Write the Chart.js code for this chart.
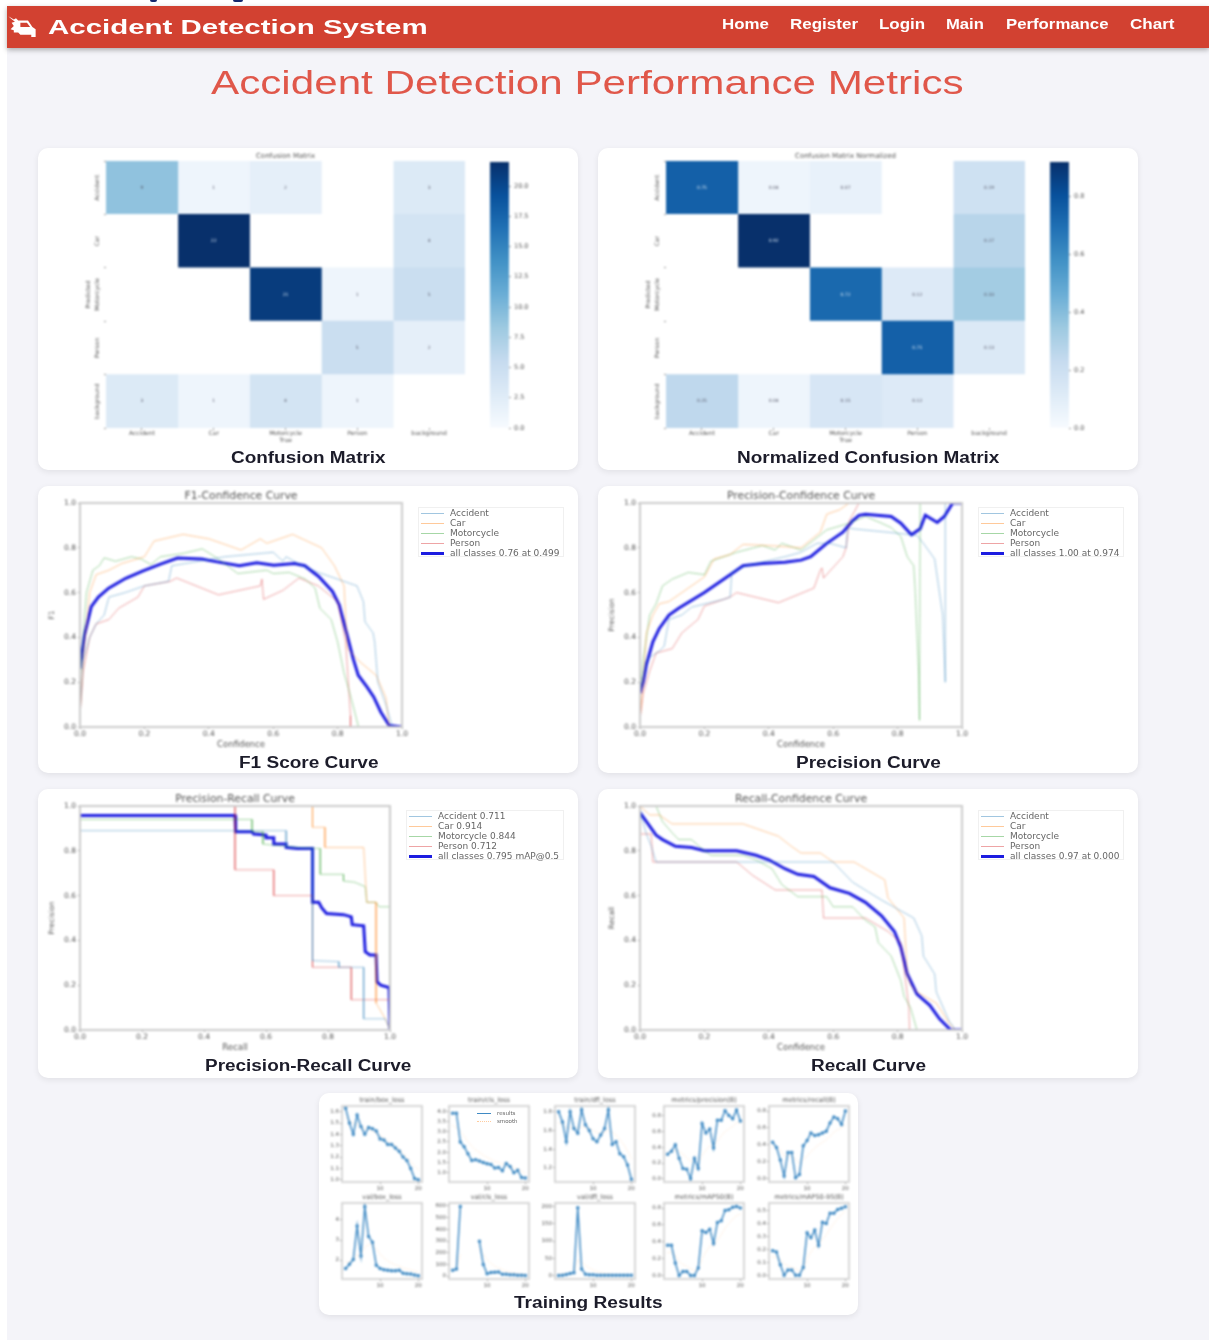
<!DOCTYPE html>
<html>
<head>
<meta charset="utf-8">
<title>Accident Detection Performance Metrics</title>
<script src="https://cdn.jsdelivr.net/npm/chart.js@4"></script>
<style>
  html, body { margin: 0; padding: 0; background: #fff; }
  #page { position: relative; width: 1209px; height: 1341px; overflow: hidden; font-family: "Liberation Sans", Arial, sans-serif; }
  #bg { position: absolute; left: 7px; top: 6px; width: 1202px; height: 1334px; background: #f4f4f9; }
  #nav { position: absolute; left: 7px; top: 6px; width: 1202px; height: 42px; background: #d24131; box-shadow: 0 2px 5px rgba(0,0,0,.3); }
  .frag { position: absolute; top: 0; height: 2px; background: #14286e; border-radius: 0 0 5px 5px; }
  .card { position: absolute; background: #fff; border-radius: 10px; box-shadow: 0 2px 6px rgba(0,0,0,.08); }
  .txt { position: absolute; white-space: nowrap; transform-origin: 0 50%; filter: blur(.5px); line-height: 1; }
  canvas { position: absolute; filter: blur(.8px); }
  .legend { position: absolute; font: 9px "DejaVu Sans", sans-serif; color: #666; background: #fff; border: 1px solid #f0f0f0; filter: blur(.7px); box-sizing: border-box; padding: 0 0 0 2px; }
  .legend div { height: 10px; line-height: 10px; white-space: nowrap; }
  .legend i { display: inline-block; width: 23px; margin-right: 6px; vertical-align: middle; }
</style>
</head>
<body>
<div id="page">
  <div id="bg"></div>
  <div class="frag" style="left:150px;width:7px"></div>
  <div class="frag" style="left:233px;width:10px"></div>
  <div id="nav"></div>
  <svg style="position:absolute;left:7px;top:14px;filter:blur(.5px)" width="30" height="24" viewBox="0 0 27 22">
    <path fill="#fff" d="M1 2l5 3 2-1 2 2h9l4 6 3 2v7h-4v-2H12l-2-2H6v-2l-3-1 3-3-2-3 3-1-4-3z"/>
    <path fill="#d24131" d="M12 8h6l3 4H12z"/>
  </svg>
</div>
<script>
// Confusion matrix values
const classNames = ['Accident', 'Car', 'Motorcycle', 'Person', 'background'];
const cmRows = [
  [9, 1, 2, 0, 3],
  [0, 22, 0, 0, 4],
  [0, 0, 21, 1, 5],
  [0, 0, 0, 5, 2],
  [3, 1, 4, 1, 0]
];
const cmNormRows = [
  [0.75, 0.04, 0.07, 0, 0.19],
  [0, 0.92, 0, 0, 0.27],
  [0, 0, 0.72, 0.12, 0.33],
  [0, 0, 0, 0.75, 0.13],
  [0.25, 0.04, 0.15, 0.12, 0]
];

// F1-confidence curve
const f1Accident = [[0,0.05],[0.01,0.3],[0.03,0.4],[0.05,0.46],[0.075,0.5],[0.09,0.58],[0.14,0.6],[0.2,0.63],[0.275,0.65],[0.285,0.72],[0.37,0.74],[0.45,0.76],[0.6,0.78],[0.63,0.74],[0.64,0.76],[0.69,0.72],[0.74,0.69],[0.8,0.66],[0.86,0.63],[0.88,0.56],[0.885,0.47],[0.91,0.42],[0.915,0.38],[0.925,0.2],[0.95,0.1],[0.97,0],[1,0]];
const f1Car = [[0,0.05],[0.01,0.3],[0.03,0.6],[0.05,0.68],[0.09,0.7],[0.13,0.73],[0.2,0.76],[0.23,0.83],[0.32,0.86],[0.4,0.84],[0.5,0.79],[0.56,0.84],[0.58,0.82],[0.66,0.86],[0.75,0.8],[0.79,0.72],[0.82,0.63],[0.83,0.35],[0.87,0.29],[0.92,0.23],[0.95,0.13],[0.96,0],[1,0]];
const f1Motorcycle = [[0,0.2],[0.01,0.4],[0.02,0.6],[0.04,0.7],[0.06,0.72],[0.075,0.755],[0.11,0.74],[0.16,0.76],[0.19,0.75],[0.22,0.725],[0.25,0.76],[0.32,0.775],[0.38,0.795],[0.43,0.75],[0.49,0.685],[0.58,0.7],[0.6,0.685],[0.65,0.69],[0.7,0.66],[0.73,0.62],[0.745,0.53],[0.78,0.48],[0.8,0.38],[0.82,0.24],[0.84,0.14],[0.865,0],[1,0]];
const f1Person = [[0,0.05],[0.01,0.25],[0.03,0.4],[0.05,0.46],[0.09,0.48],[0.12,0.53],[0.18,0.58],[0.2,0.63],[0.28,0.65],[0.3,0.665],[0.43,0.59],[0.56,0.63],[0.565,0.66],[0.57,0.57],[0.63,0.61],[0.68,0.665],[0.74,0.63],[0.8,0.56],[0.825,0.38],[0.84,0.05],[0.84,0],[1,0]];
const f1All = [[0,0.26],[0.014,0.41],[0.035,0.537],[0.057,0.58],[0.089,0.62],[0.142,0.664],[0.196,0.697],[0.25,0.727],[0.303,0.754],[0.378,0.75],[0.43,0.736],[0.495,0.72],[0.549,0.733],[0.602,0.722],[0.666,0.73],[0.698,0.72],[0.741,0.672],[0.784,0.605],[0.805,0.545],[0.827,0.425],[0.848,0.306],[0.864,0.231],[0.891,0.179],[0.912,0.134],[0.934,0.067],[0.96,0.007],[1,0]];
const f1Legend = ['Accident', 'Car', 'Motorcycle', 'Person', 'all classes 0.76 at 0.499'];

// Precision-confidence curve
const pAccident = [[0,0.15],[0.02,0.3],[0.06,0.34],[0.075,0.36],[0.09,0.48],[0.13,0.5],[0.16,0.535],[0.26,0.57],[0.28,0.58],[0.285,0.69],[0.33,0.72],[0.45,0.76],[0.5,0.78],[0.55,0.82],[0.59,0.82],[0.64,0.8],[0.645,0.89],[0.66,0.885],[0.8,0.865],[0.86,0.855],[0.88,0.82],[0.915,0.75],[0.94,0.5],[0.948,0.2],[0.948,1],[1,1]];
const pCar = [[0,0.03],[0.01,0.2],[0.02,0.42],[0.04,0.5],[0.06,0.55],[0.09,0.56],[0.13,0.6],[0.2,0.67],[0.23,0.75],[0.28,0.77],[0.32,0.815],[0.4,0.81],[0.5,0.8],[0.56,0.87],[0.58,0.95],[0.62,0.97],[0.65,1],[1,1]];
const pMotorcycle = [[0,0.15],[0.01,0.3],[0.03,0.5],[0.05,0.55],[0.07,0.63],[0.1,0.66],[0.15,0.69],[0.2,0.68],[0.22,0.74],[0.3,0.78],[0.38,0.81],[0.42,0.79],[0.44,0.82],[0.5,0.79],[0.58,0.88],[0.65,0.91],[0.7,0.94],[0.75,0.91],[0.78,0.89],[0.81,0.85],[0.83,0.76],[0.85,0.72],[0.855,0.6],[0.865,0.25],[0.868,0.03],[0.87,1],[1,1]];
const pPerson = [[0,0.03],[0.01,0.15],[0.03,0.25],[0.05,0.33],[0.1,0.35],[0.13,0.42],[0.18,0.48],[0.2,0.54],[0.28,0.58],[0.3,0.6],[0.43,0.555],[0.54,0.62],[0.56,0.7],[0.565,0.71],[0.57,0.665],[0.63,0.76],[0.64,0.8],[0.65,0.92],[0.68,1],[1,1]];
const pAll = [[0,0.15],[0.01,0.2],[0.02,0.28],[0.04,0.38],[0.06,0.44],[0.09,0.5],[0.12,0.53],[0.2,0.6],[0.28,0.68],[0.32,0.72],[0.38,0.73],[0.45,0.735],[0.5,0.745],[0.53,0.76],[0.58,0.82],[0.63,0.87],[0.66,0.92],[0.68,0.945],[0.7,0.95],[0.78,0.94],[0.81,0.91],[0.843,0.858],[0.87,0.885],[0.886,0.945],[0.923,0.913],[0.945,0.94],[0.971,1],[1,1]];
const pLegend = ['Accident', 'Car', 'Motorcycle', 'Person', 'all classes 1.00 at 0.974'];

// Precision-recall curve
const prAccident = [[0,0.89],[0.665,0.89],[0.665,0.82],[0.75,0.81],[0.75,0.31],[0.835,0.305],[0.835,0.28],[0.915,0.28],[0.915,0.05],[0.985,0.05],[1,0]];
const prCar = [[0,1],[0.75,1],[0.75,0.905],[0.79,0.905],[0.79,0.815],[0.915,0.815],[0.925,0.57],[0.955,0.57],[0.955,0.12],[0.985,0.05],[1,0]];
const prMotorcycle = [[0,0.94],[0.555,0.94],[0.555,0.885],[0.59,0.885],[0.59,0.83],[0.7,0.815],[0.775,0.81],[0.775,0.695],[0.85,0.695],[0.85,0.665],[0.885,0.66],[0.92,0.64],[0.925,0.57],[0.955,0.57],[0.965,0.55],[1,0.55],[1,0]];
const prPerson = [[0,1],[0.5,1],[0.5,0.715],[0.625,0.715],[0.625,0.6],[0.75,0.6],[0.75,0.28],[0.875,0.28],[0.875,0.135],[1,0.135],[1,0]];
const prAll = [[0,0.958],[0.5,0.958],[0.502,0.885],[0.555,0.885],[0.56,0.875],[0.6,0.87],[0.6,0.858],[0.625,0.858],[0.625,0.83],[0.665,0.83],[0.665,0.815],[0.7,0.81],[0.75,0.81],[0.75,0.57],[0.77,0.57],[0.78,0.545],[0.795,0.52],[0.85,0.515],[0.875,0.505],[0.878,0.47],[0.915,0.465],[0.92,0.35],[0.935,0.335],[0.955,0.335],[0.958,0.215],[0.97,0.2],[0.997,0.19],[1,0]];
const prLimit = [[1,0],[1,1]];
const prLegend = ['Accident 0.711', 'Car 0.914', 'Motorcycle 0.844', 'Person 0.712', 'all classes 0.795 mAP@0.5'];

// Recall-confidence curve
const rAccident = [[0,1],[0.005,0.95],[0.02,0.875],[0.035,0.82],[0.05,0.75],[0.6,0.75],[0.66,0.66],[0.75,0.58],[0.85,0.5],[0.875,0.42],[0.88,0.33],[0.915,0.25],[0.92,0.17],[0.96,0.04],[0.98,0],[1,0]];
const rCar = [[0,1],[0.03,0.96],[0.06,0.96],[0.1,0.92],[0.32,0.92],[0.43,0.865],[0.47,0.82],[0.5,0.79],[0.56,0.79],[0.6,0.75],[0.665,0.75],[0.76,0.67],[0.77,0.59],[0.82,0.5],[0.83,0.25],[0.84,0.2],[0.86,0.17],[0.92,0.12],[0.96,0.03],[0.98,0],[1,0]];
const rMotorcycle = [[0,1],[0.05,1],[0.07,0.93],[0.1,0.88],[0.12,0.85],[0.16,0.85],[0.2,0.8],[0.22,0.78],[0.32,0.78],[0.36,0.76],[0.41,0.72],[0.44,0.65],[0.49,0.595],[0.58,0.595],[0.6,0.55],[0.66,0.55],[0.7,0.49],[0.73,0.46],[0.74,0.39],[0.78,0.33],[0.81,0.22],[0.82,0.15],[0.84,0.1],[0.86,0],[1,0]];
const rPerson = [[0,0.875],[0.035,0.875],[0.04,0.75],[0.3,0.75],[0.35,0.69],[0.42,0.625],[0.565,0.625],[0.57,0.5],[0.7,0.5],[0.77,0.44],[0.81,0.39],[0.835,0.1],[0.837,0],[1,0]];
const rAll = [[0,0.97],[0.02,0.93],[0.05,0.87],[0.07,0.85],[0.11,0.82],[0.16,0.815],[0.2,0.8],[0.3,0.8],[0.36,0.78],[0.4,0.76],[0.45,0.72],[0.49,0.695],[0.54,0.685],[0.59,0.635],[0.65,0.61],[0.7,0.57],[0.75,0.51],[0.79,0.44],[0.81,0.37],[0.83,0.25],[0.86,0.16],[0.9,0.11],[0.93,0.05],[0.965,0],[1,0]];
const rLegend = ['Accident', 'Car', 'Motorcycle', 'Person', 'all classes 0.97 at 0.000'];

// Training results, one value per epoch
const epochs = [1,2,3,4,5,6,7,8,9,10,11,12,13,14,15,16,17,18,19,20];
const trainBox = [1.63,1.5,1.4,1.57,1.47,1.4,1.46,1.45,1.43,1.36,1.35,1.31,1.31,1.28,1.25,1.2,1.17,1.1,1.01,1.0];
const trainBoxSmooth = [1.55,1.52,1.5,1.49,1.47,1.45,1.44,1.43,1.41,1.39,1.37,1.34,1.32,1.3,1.27,1.24,1.2,1.16,1.12,1.09];
const trainCls = [3.9,3.9,2.5,2.27,1.92,1.6,1.63,1.57,1.5,1.44,1.4,1.23,1.26,1.1,1.45,1.3,1.0,1.12,0.77,0.75];
const trainClsSmooth = [3.3,3.2,3.0,2.8,2.5,2.3,2.1,2.0,1.85,1.75,1.65,1.55,1.5,1.42,1.4,1.35,1.25,1.2,1.08,0.98];
const trainDfl = [1.8,1.69,1.48,1.8,1.62,1.57,1.82,1.66,1.6,1.51,1.48,1.55,1.62,1.82,1.45,1.48,1.35,1.32,1.23,1.08];
const trainDflSmooth = [1.68,1.66,1.63,1.63,1.63,1.62,1.64,1.63,1.62,1.6,1.58,1.57,1.58,1.6,1.58,1.55,1.5,1.45,1.38,1.3];
const precisionB = [0.31,0.35,0.43,0.26,0.13,0.12,0,0.26,0.13,0.7,0.58,0.63,0.39,0.74,0.74,0.86,0.8,0.76,0.87,0.73];
const precisionBSmooth = [0.33,0.34,0.36,0.35,0.31,0.27,0.22,0.22,0.2,0.3,0.36,0.42,0.41,0.48,0.54,0.6,0.63,0.66,0.71,0.7];
const recallB = [0.43,0.37,0.22,0.03,0.31,0.31,0.01,0.05,0.39,0.45,0.54,0.51,0.52,0.54,0.56,0.66,0.73,0.71,0.64,0.8];
const recallBSmooth = [0.38,0.38,0.34,0.27,0.28,0.29,0.22,0.18,0.22,0.27,0.32,0.36,0.4,0.43,0.46,0.5,0.55,0.58,0.6,0.64];
const valBox = [1.57,1.79,2.03,3.7,2.2,4.66,3.18,2.89,1.74,1.57,1.51,1.49,1.46,1.46,1.49,1.34,1.31,1.3,1.25,1.21];
const valBoxSmooth = [1.9,1.9,1.95,2.25,2.25,2.65,2.75,2.8,2.55,2.3,2.1,1.95,1.85,1.75,1.7,1.6,1.55,1.5,1.45,1.4];
const valCls = [50,60,595,null,null,null,null,297,100,20,30,33,35,15,15,12,12,8,8,6];
const valClsSmooth = [60,62,190,null,null,null,null,230,190,140,110,85,70,55,42,35,28,22,18,15];
const valDfl = [0,1,3,6,8,196,19,4,2,2,1,1,1,1,1,1,1,1,1,1];
const valDflSmooth = [5,5,5,5,6,45,40,30,22,16,12,9,7,5,4,3,3,2,2,2];
const map50 = [0.36,0.36,0.15,0,0.05,0.05,0,0,0.09,0.53,0.51,0.55,0.38,0.63,0.65,0.77,0.78,0.81,0.82,0.8];
const map50Smooth = [0.27,0.28,0.24,0.17,0.13,0.11,0.08,0.06,0.07,0.2,0.28,0.35,0.35,0.42,0.48,0.56,0.62,0.67,0.71,0.73];
const map5095 = [0.19,0.18,0.08,0,0.04,0.04,0,0,0.06,0.33,0.29,0.35,0.23,0.41,0.4,0.48,0.48,0.51,0.52,0.53];
const map5095Smooth = [0.14,0.14,0.12,0.09,0.07,0.06,0.05,0.03,0.04,0.13,0.18,0.22,0.23,0.28,0.31,0.36,0.4,0.44,0.47,0.5];

const page = document.getElementById('page');
const mpl = '"DejaVu Sans", sans-serif';
const blues = ['#f7fbff','#deebf7','#c6dbef','#9ecae1','#6baed6','#4292c6','#2171b5','#08519c','#08306b'];
const lineColors = ['rgba(31,119,180,.42)', 'rgba(255,127,14,.42)', 'rgba(44,160,44,.42)', 'rgba(214,39,40,.42)', '#1c1ce0'];

Chart.defaults.animation = false;
Chart.defaults.responsive = false;
Chart.defaults.color = '#555';

function hex(c) { return [1, 3, 5].map(i => parseInt(c.substr(i, 2), 16)); }

// Blues colormap lookup, t between 0 and 1
function bluesColor(t) {
  const p = Math.min(t, 1) * (blues.length - 1);
  const i = Math.min(Math.floor(p), blues.length - 2);
  const a = hex(blues[i]), b = hex(blues[i + 1]);
  const c = a.map((v, k) => Math.round(v + (b[k] - v) * (p - i)));
  return 'rgb(' + c.join(',') + ')';
}

function addCanvas(left, top, width, height) {
  const c = document.createElement('canvas');
  c.width = width;
  c.height = height;
  c.style.left = left + 'px';
  c.style.top = top + 'px';
  page.appendChild(c);
  return c;
}

// Text stretched sideways to the width it has in the picture
function addText(text, left, width, midY, size, color, weight) {
  const d = document.createElement('div');
  d.className = 'txt';
  d.textContent = text;
  d.style.left = left + 'px';
  d.style.top = (midY - size / 2) + 'px';
  d.style.fontSize = size + 'px';
  d.style.color = color;
  d.style.fontWeight = weight;
  page.appendChild(d);
  d.style.transform = 'scaleX(' + (width / d.offsetWidth) + ')';
}

function addCard(left, top, right, bottom) {
  const d = document.createElement('div');
  d.className = 'card';
  d.style.cssText = `left:${left}px;top:${top}px;width:${right - left}px;height:${bottom - top}px`;
  page.appendChild(d);
}

function addLegend(labels, left, top, width, height, colors, widths, dashed) {
  const d = document.createElement('div');
  d.className = 'legend';
  d.style.cssText = `left:${left}px;top:${top}px;width:${width}px;height:${height}px`;
  labels.forEach((label, i) => {
    const row = document.createElement('div');
    const mark = document.createElement('i');
    mark.style.borderTop = `${widths[i]}px ${dashed && dashed[i] ? 'dotted' : 'solid'} ${colors[i]}`;
    row.appendChild(mark);
    row.appendChild(document.createTextNode(label));
    d.appendChild(row);
  });
  page.appendChild(d);
  return d;
}

// Gray box round the plot, like the matplotlib spines in the picture
const framePlugin = {
  id: 'frame',
  afterDatasetsDraw(chart, args, opts) {
    if (!opts.color) return;
    const a = chart.chartArea, ctx = chart.ctx;
    ctx.save();
    ctx.strokeStyle = opts.color;
    ctx.lineWidth = opts.width;
    ctx.strokeRect(a.left, a.top, a.right - a.left, a.bottom - a.top);
    ctx.restore();
  }
};

// Numbers inside the heatmap cells
const cellTextPlugin = {
  id: 'cellText',
  afterDatasetsDraw(chart, args, opts) {
    if (!opts.rows) return;
    const ctx = chart.ctx;
    ctx.save();
    ctx.font = '4.5px ' + mpl;
    ctx.textAlign = 'center';
    ctx.textBaseline = 'middle';
    chart.data.datasets.forEach((ds, c) => {
      chart.getDatasetMeta(c).data.forEach((bar, r) => {
        const v = opts.rows[r][c];
        if (!v) return;
        ctx.fillStyle = v / opts.max > 0.55 ? '#dce9f5' : '#556';
        ctx.fillText(opts.fmt(v), (bar.x + bar.base) / 2, bar.y);
      });
    });
    ctx.restore();
  }
};
Chart.register(framePlugin, cellTextPlugin);

function tickGrid() {
  return { display: true, drawOnChartArea: false, drawTicks: true, tickLength: 2, color: '#999' };
}

function heatmap(offsetX, title, rows, max, step, cbDigits, fmt) {
  const canvas = addCanvas(40 + offsetX, 150, 430, 294);
  const datasets = classNames.map((name, c) => ({
    label: name,
    data: rows.map(() => 1),
    backgroundColor: rows.map(row => row[c] === 0 ? '#fff' : bluesColor(row[c] / max)),
    borderWidth: 0,
    barPercentage: 1,
    categoryPercentage: 1
  }));
  new Chart(canvas, {
    type: 'bar',
    data: { labels: classNames, datasets },
    options: {
      indexAxis: 'y',
      layout: { autoPadding: false, padding: { top: 1, right: 5 } },
      plugins: {
        legend: { display: false },
        tooltip: { enabled: false },
        title: { display: true, text: title, fullSize: false, font: { family: mpl, size: 7, weight: 'normal', lineHeight: 1 }, padding: { top: 2, bottom: 1 }, color: '#555' },
        cellText: { rows, max, fmt }
      },
      scales: {
        x: {
          type: 'linear', stacked: true, min: 0, max: 5,
          afterBuildTicks: s => { s.ticks = classNames.map((n, i) => ({ value: i + 0.5 })); },
          afterFit: s => { s.height = 16; },
          grid: tickGrid(), border: { display: false },
          ticks: { callback: v => classNames[v - 0.5], autoSkip: false, maxRotation: 0, font: { family: mpl, size: 6 }, padding: 0 },
          title: { display: true, text: 'True', font: { family: mpl, size: 6 }, padding: 0, color: '#555' }
        },
        y: {
          stacked: true,
          afterFit: s => { s.width = 66; },
          grid: tickGrid(), border: { display: false },
          ticks: { minRotation: 90, maxRotation: 90, crossAlign: 'center', autoSkip: false, font: { family: mpl, size: 6 }, padding: -11 },
          title: { display: true, text: 'Predicted', font: { family: mpl, size: 6 }, padding: { top: 45, bottom: 0 }, color: '#555' }
        }
      }
    }
  });

  // Colour bar
  const bar = addCanvas(488 + offsetX, 155, 60, 280);
  new Chart(bar, {
    type: 'bar',
    data: { labels: [''], datasets: [{
      data: [[0, max]],
      barPercentage: 1, categoryPercentage: 1, borderSkipped: false,
      backgroundColor: c => {
        const a = c.chart.chartArea;
        if (!a) return blues[4];
        const g = c.chart.ctx.createLinearGradient(0, a.bottom, 0, a.top);
        blues.forEach((col, i) => g.addColorStop(i / (blues.length - 1), col));
        return g;
      }
    }] },
    options: {
      layout: { autoPadding: false, padding: { top: 6, bottom: 7, left: 2 } },
      plugins: { legend: { display: false }, tooltip: { enabled: false } },
      scales: {
        x: { display: false },
        y: {
          position: 'right', min: 0, max,
          afterFit: s => { s.width = 39; },
          grid: tickGrid(), border: { display: false },
          ticks: { stepSize: step, includeBounds: false, callback: v => v.toFixed(cbDigits), font: { family: mpl, size: 6.5 }, padding: 3 }
        }
      }
    }
  });
}

// One ultralytics style curve plot, its legend is added next to it
function curvePlot(left, top, right, bottom, title, xTitle, yTitle, series, extra) {
  const canvas = addCanvas(left - 40, top - 15, right - left + 47, bottom - top + 15 + 23);
  const datasets = series.map((s, i) => ({
    data: s.map(p => ({ x: p[0], y: p[1] })),
    borderColor: lineColors[i],
    borderWidth: i === 4 ? 3 : 1,
    pointRadius: 0,
    tension: 0
  }));
  if (extra) datasets.push({ data: extra.map(p => ({ x: p[0], y: p[1] })), borderColor: '#333', borderWidth: 1, pointRadius: 0 });
  const axisFont = { family: mpl, size: 7.5 };
  new Chart(canvas, {
    type: 'line',
    data: { datasets },
    options: {
      layout: { autoPadding: false, padding: { top: 3, right: 3 } },
      plugins: {
        legend: { display: false },
        tooltip: { enabled: false },
        frame: { color: '#ccc', width: 2 },
        title: { display: true, text: title, fullSize: false, font: { family: mpl, size: 10.8, weight: 'normal', lineHeight: 1 }, padding: { top: 0, bottom: 1.2 }, color: '#555' }
      },
      scales: {
        x: {
          type: 'linear', min: 0, max: 1,
          afterFit: s => { s.height = 23; },
          grid: tickGrid(), border: { display: false },
          ticks: { stepSize: 0.2, callback: v => v.toFixed(1), maxRotation: 0, font: axisFont, padding: 1 },
          title: { display: true, text: xTitle, font: { family: mpl, size: 8.5 }, padding: 0, color: '#555' }
        },
        y: {
          min: 0, max: 1,
          afterFit: s => { s.width = 40; },
          grid: tickGrid(), border: { display: false },
          ticks: { stepSize: 0.2, callback: v => v.toFixed(1), font: axisFont, padding: 2 },
          title: { display: true, text: yTitle, font: { family: mpl, size: 7.5 }, padding: { top: 8, bottom: 0 }, color: '#555' }
        }
      }
    }
  });
}

function trainPlot(left, top, title, values, smooth, yMin, yMax, step, digits) {
  const w = 80, h = 76;
  const canvas = addCanvas(left - 24, top - 10, w + 28, h + 10 + 12);
  const f = { family: mpl, size: 5.5 };
  new Chart(canvas, {
    type: 'line',
    data: {
      labels: epochs,
      datasets: [
        { data: values.map((v, i) => ({ x: epochs[i], y: v })), borderColor: '#3f8ac4', backgroundColor: '#2c6f9f', borderWidth: 1.5, pointRadius: 1, spanGaps: false },
        { data: smooth.map((v, i) => ({ x: epochs[i], y: v })), borderColor: 'rgba(255,127,14,.3)', borderWidth: 0.8, borderDash: [1, 1.5], pointRadius: 0, spanGaps: false }
      ]
    },
    options: {
      layout: { autoPadding: false, padding: { top: 1, right: 4 } },
      plugins: {
        legend: { display: false },
        tooltip: { enabled: false },
        frame: { color: '#ccc', width: 1.5 },
        title: { display: true, text: title, fullSize: false, font: { family: mpl, size: 6.5, weight: 'normal', lineHeight: 1 }, padding: { top: 0, bottom: 2.5 }, color: '#555' }
      },
      scales: {
        x: {
          type: 'linear', min: 0.05, max: 20.95,
          afterBuildTicks: s => { s.ticks = [{ value: 10 }, { value: 20 }]; },
          afterFit: s => { s.height = 12; },
          grid: tickGrid(), border: { display: false },
          ticks: { maxRotation: 0, font: f, padding: 1 }
        },
        y: {
          min: yMin, max: yMax,
          afterFit: s => { s.width = 24; },
          grid: tickGrid(), border: { display: false },
          ticks: { stepSize: step, includeBounds: false, callback: v => v.toFixed(digits), font: f, padding: 1 }
        }
      }
    }
  });
}

// Page heading and navigation
const headText = [
  ['Accident Detection System', 48, 380, 26, 21],
  ['Home', 722, 47, 24, 14],
  ['Register', 790, 68, 24, 14],
  ['Login', 879, 46, 24, 14],
  ['Main', 946, 38, 24, 14],
  ['Performance', 1006, 103, 24, 14],
  ['Chart', 1130, 45, 24, 14]
];
headText.forEach(t => addText(t[0], t[1], t[2], t[3], t[4], '#fff', 'bold'));
addText('Accident Detection Performance Metrics', 211, 753, 82, 33, '#e0574a', 'normal');

// Cards
addCard(38, 148, 578, 470);
addCard(598, 148, 1138, 470);
addCard(38, 486, 578, 773);
addCard(598, 486, 1138, 773);
addCard(38, 789, 578, 1078);
addCard(598, 789, 1138, 1078);
addCard(319, 1093, 858, 1315);

// Confusion matrices
heatmap(0, 'Confusion Matrix', cmRows, 22, 2.5, 1, v => String(v));
heatmap(560, 'Confusion Matrix Normalized', cmNormRows, 0.92, 0.2, 1, v => v.toFixed(2));

// Curves
const legendWidths = [1, 1, 1, 1, 3];
curvePlot(80, 503, 402, 727, 'F1-Confidence Curve', 'Confidence', 'F1', [f1Accident, f1Car, f1Motorcycle, f1Person, f1All]);
addLegend(f1Legend, 418, 507, 146, 50, lineColors, legendWidths);
curvePlot(640, 503, 962, 727, 'Precision-Confidence Curve', 'Confidence', 'Precision', [pAccident, pCar, pMotorcycle, pPerson, pAll]);
addLegend(pLegend, 978, 507, 146, 50, lineColors, legendWidths);
curvePlot(80, 806, 390, 1030, 'Precision-Recall Curve', 'Recall', 'Precision', [prAccident, prCar, prMotorcycle, prPerson, prAll], prLimit);
addLegend(prLegend, 406, 810, 158, 50, lineColors, legendWidths);
curvePlot(640, 806, 962, 1030, 'Recall-Confidence Curve', 'Confidence', 'Recall', [rAccident, rCar, rMotorcycle, rPerson, rAll]);
addLegend(rLegend, 978, 810, 146, 50, lineColors, legendWidths);

// Training results
trainPlot(342, 1106, 'train/box_loss', trainBox, trainBoxSmooth, 0.98, 1.65, 0.1, 1);
trainPlot(449, 1106, 'train/cls_loss', trainCls, trainClsSmooth, 0.55, 4.25, 0.5, 1);
trainPlot(555, 1106, 'train/dfl_loss', trainDfl, trainDflSmooth, 1.05, 1.86, 0.2, 1);
trainPlot(664, 1106, 'metrics/precision(B)', precisionB, precisionBSmooth, -0.04, 0.92, 0.2, 1);
trainPlot(769, 1106, 'metrics/recall(B)', recallB, recallBSmooth, -0.04, 0.86, 0.2, 1);
trainPlot(342, 1203, 'val/box_loss', valBox, valBoxSmooth, 1.05, 4.85, 1, 0);
trainPlot(449, 1203, 'val/cls_loss', valCls, valClsSmooth, -25, 625, 100, 0);
trainPlot(555, 1203, 'val/dfl_loss', valDfl, valDflSmooth, -10, 210, 50, 0);
trainPlot(664, 1203, 'metrics/mAP50(B)', map50, map50Smooth, -0.04, 0.86, 0.2, 1);
trainPlot(769, 1203, 'metrics/mAP50-95(B)', map5095, map5095Smooth, -0.03, 0.56, 0.1, 1);
const trainLegend = addLegend(['results', 'smooth'], 477, 1108, 48, 18, ['#3f8ac4', 'rgba(255,127,14,.4)'], [1, 1], [false, true]);
trainLegend.style.fontSize = '5.5px';
trainLegend.style.border = 'none';
trainLegend.style.background = 'none';
trainLegend.style.padding = '1px 0 0 0';
trainLegend.querySelectorAll('i').forEach(m => { m.style.width = '14px'; m.style.marginRight = '6px'; });
trainLegend.querySelectorAll('div').forEach(m => { m.style.height = '8px'; m.style.lineHeight = '8px'; });

// Card captions
const captions = [
  ['Confusion Matrix', 231, 155, 457.5],
  ['Normalized Confusion Matrix', 737, 262, 457.5],
  ['F1 Score Curve', 239, 139, 762.5],
  ['Precision Curve', 796, 145, 762.5],
  ['Precision-Recall Curve', 205, 206, 1065.5],
  ['Recall Curve', 811, 115, 1065.5],
  ['Training Results', 514, 148, 1302.5]
];
captions.forEach(c => addText(c[0], c[1], c[2], c[3], 16, '#1c1c2a', 'bold'));
</script>
</body>
</html>
